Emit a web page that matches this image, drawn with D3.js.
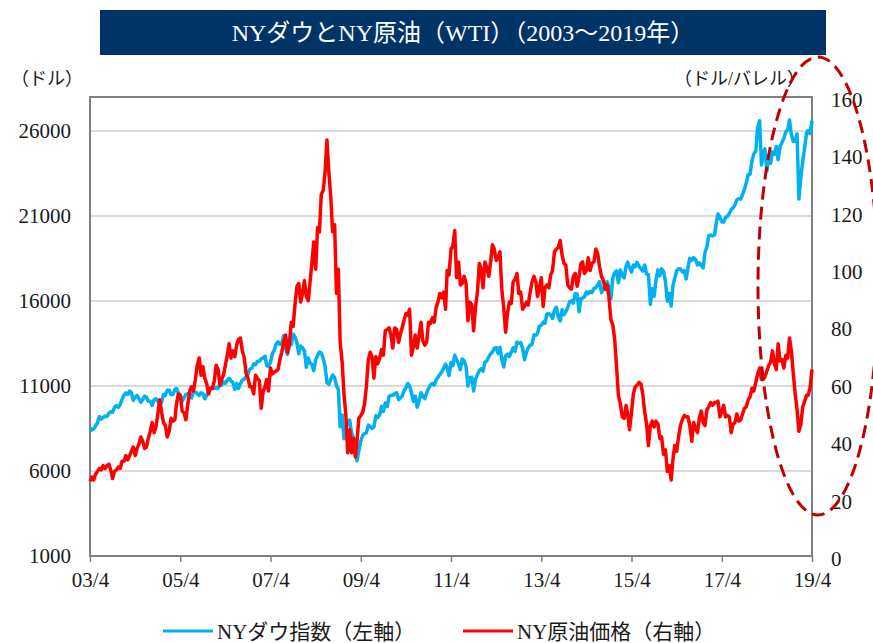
<!DOCTYPE html>
<html>
<head>
<meta charset="utf-8">
<script src="https://cdn.jsdelivr.net/npm/d3@7/dist/d3.min.js"></script>
<style>
  body { margin: 0; background: #fff; }
  svg { display: block; }
</style>
</head>
<body>
<div id="vis"></div>
<script>
// data: two readings a month (1st and 16th), from 2003/4 to 2019/4
var startDate = new Date(2003, 3, 1);

// NY Dow (dollars)
var dowValues = [
  8530, 8400, 8480, 8650, 8850, 9200, 9050, 9150, 9230, 9200, 9400, 9500, 9450, 9750, 9850, 9750, 9900, 10200,
  10450, 10600, 10500, 10700, 10600, 10150, 10350, 10450, 10250, 10050, 10200, 10400, 10350, 10100, 10100, 9850, 10200, 10250, 10100, 9900, 10050, 10500, 10450, 10750,
  10750, 10500, 10500, 10800, 10850, 10600, 10450, 10100, 10300, 10500, 10550, 10550, 10300, 10650, 10650, 10550, 10450, 10600, 10550, 10250, 10450, 10750, 10850, 10850,
  10850, 10900, 10850, 11100, 11050, 11250, 11150, 11350, 11450, 11300, 11200, 10800, 11150, 10850, 11150, 11350, 11400, 11550, 11700, 12000, 12050, 12300, 12250, 12450,
  12450, 12600, 12650, 12750, 12200, 12150, 12400, 12900, 13100, 13450, 13600, 13450, 13500, 13950, 13200, 12850, 13350, 13450, 14050, 13900, 13550, 12900, 13350, 13250,
  13050, 12100, 12650, 12350, 12250, 11900, 12550, 12800, 13000, 12950, 12600, 12150, 11200, 11100, 11400, 11650, 11500, 11000, 10800, 8600, 9300, 7900, 8400, 8900,
  9000, 8250, 7950, 7550, 6600, 7200, 7750, 8100, 8200, 8250, 8700, 8600, 8500, 8600, 9250, 9150, 9300, 9800, 9500, 10000, 9800, 10400, 10450, 10450,
  10550, 10600, 10200, 10300, 10400, 10700, 10900, 11150, 11000, 10600, 10100, 10400, 9750, 10100, 10600, 10400, 10250, 10600, 10850, 11050, 11150, 11050, 11350, 11500,
  11670, 11840, 12040, 12290, 12060, 11610, 12380, 12200, 12810, 12550, 12290, 11960, 12580, 12480, 12130, 11000, 11490, 11510, 10700, 11400, 11660, 11900, 12020, 11870,
  12400, 12480, 12720, 12900, 12980, 13230, 13260, 12920, 13280, 12600, 12120, 12770, 12870, 12730, 12980, 13250, 13040, 13590, 13520, 13550, 13230, 12540, 12970, 13240,
  13410, 13440, 14010, 13980, 14090, 14510, 14570, 14760, 14700, 15230, 15250, 15180, 14970, 15450, 15630, 15080, 14830, 15490, 15190, 15370, 15620, 15960, 16010, 15880,
  16440, 16420, 15370, 16150, 16170, 16250, 16530, 16430, 16560, 16490, 16740, 16780, 16960, 17140, 16490, 16660, 17070, 17130, 16800, 16120, 17370, 17650, 17780, 17070,
  17830, 17510, 17360, 18050, 18290, 17980, 17700, 18110, 18020, 18270, 18040, 17900, 17760, 18120, 17600, 17550, 15800, 16740, 16270, 17220, 17830, 17480, 17890, 17750,
  17150, 15990, 16450, 15700, 16870, 17330, 17790, 17900, 17890, 17710, 17790, 17300, 17950, 18520, 18400, 18550, 18420, 18120, 18250, 18090, 17950, 18870, 19190, 19840,
  19880, 19830, 19890, 20620, 21120, 20930, 20650, 20640, 20910, 20980, 21140, 21380, 21480, 21630, 21960, 22020, 21990, 22270, 22560, 22960, 23440, 23460, 24230, 24650,
  24820, 26200, 26600, 24000, 24610, 24950, 23640, 24570, 24100, 24770, 24640, 25090, 24310, 25060, 25330, 25560, 25950, 26060, 26650, 25800, 25380, 25410, 25830, 22000,
  23350, 24210, 25060, 25880, 26030, 25850, 26600
];

// NY crude oil WTI (dollars / barrel)
var wtiValues = [
  26, 27.5, 26.5, 28.5, 29.5, 30.5, 30, 31.5, 30.5, 31.5, 32, 30, 27, 29.5, 30, 31, 30.5, 33,
  33, 35, 33.5, 35, 36.5, 38, 35, 37.5, 39, 41.5, 40, 37.5, 38, 41, 43.5, 46.5, 43, 45, 49.5, 54.5, 50, 46.5, 45.5, 41.5,
  43.5, 48, 47, 47.5, 53, 56.5, 56, 50.5, 50, 47.5, 53, 57.5, 59, 57.5, 61.5, 66.5, 69, 63, 66, 62, 60, 56.5, 58.5, 58.5,
  61, 66.5, 65, 59.5, 61.5, 63, 66.5, 70, 74, 69, 71.5, 69.5, 73.5, 75.5, 76, 71.5, 69, 63.5, 62, 59, 59, 56.5, 63, 62,
  61, 51.5, 57.5, 59, 61.5, 57.5, 65.5, 63.5, 64, 64.5, 65, 68.5, 71, 74.5, 77, 71, 74, 81.5, 80, 87.5, 94, 95, 88.5, 91.5,
  96, 90.5, 89, 96, 102, 109.5, 100, 114.5, 113, 126, 127.5, 134, 145, 134, 125, 113, 115.5, 91.5, 100, 74.5, 67.5, 56.5, 49, 36,
  44, 36, 41, 34.5, 40, 48, 49, 50, 53, 59, 68.5, 71, 69.5, 62, 69.5, 67, 69, 72, 70, 78.5, 79, 79.5, 77, 72.5,
  79.5, 79, 74.5, 77.5, 79.5, 82, 84.5, 84, 86, 70, 73, 77, 72.5, 76.5, 81.5, 75, 73.5, 74.5, 81.5, 81, 83, 81.5, 86.5, 88.5,
  91.5, 90, 92, 86, 99.5, 98, 107, 108, 113.5, 97, 102.5, 94.5, 95, 97.5, 95, 82, 88.5, 87.5, 78.5, 86.5, 92, 102, 100, 93.5,
  102.5, 100.5, 97.5, 102.5, 108.5, 107, 103, 104, 106, 93, 86.5, 78, 84.5, 88.5, 88, 95.5, 96.5, 98.5, 91.5, 92, 86, 87, 88.5, 87.5,
  92, 95.5, 97.5, 95.5, 90.5, 93.5, 97, 87, 93.5, 94.5, 93.5, 98, 99.5, 106, 107, 107.5, 110, 105, 102, 101.5, 94.5, 93.5, 93, 97.5,
  98.5, 94, 97.5, 102, 102.5, 98.5, 99.5, 104, 99.5, 102, 102.5, 107, 105.5, 101, 97.5, 96, 93, 94.5, 90, 82.5, 80.5, 75.5, 66, 56,
  53, 48.5, 48, 52.5, 49.5, 44, 50, 56.5, 59, 59.5, 60.5, 60, 56.5, 50.5, 46, 38.5, 45.5, 47, 45, 47, 46, 41, 41.5, 35.5,
  37, 29.5, 31.5, 26.5, 33.5, 38.5, 36.5, 41.5, 45.5, 47.5, 49, 48.5, 48.5, 45.5, 40, 46.5, 44.5, 43, 48, 50.5, 46.5, 45.5, 51, 52,
  53.5, 52.5, 53.5, 53.5, 54, 48.5, 50.5, 52.5, 48.5, 49, 48.5, 43, 46, 46.5, 49.5, 47, 47.5, 49.5, 51.5, 52, 54.5, 55.5, 58.5, 57.5,
  60.5, 63.5, 65.5, 61.5, 61.5, 62.5, 64.5, 66.5, 67.5, 71.5, 67, 65, 74, 68, 68.5, 65.5, 70, 69, 76, 71.5, 63.5, 56.5, 51, 43.5,
  46, 52, 54, 56, 56, 58.5, 65
];

var xTickYears = [2003, 2005, 2007, 2009, 2011, 2013, 2015, 2017, 2019];
var leftTicks = [1000, 6000, 11000, 16000, 21000, 26000];
var rightTicks = [0, 20, 40, 60, 80, 100, 120, 140, 160];

var titleText = "NYダウとNY原油（WTI）（2003～2019年）";
var leftUnit = "（ドル）";
var rightUnit = "（ドル/バレル）";
var dowName = "NYダウ指数（左軸）";
var wtiName = "NY原油価格（右軸）";

var font = '"Liberation Serif", "Noto Sans CJK JP", serif';
var dowColor = "#00b0f0";
var wtiColor = "#ff0000";

var width = 873, height = 643;
var margin = { top: 97, left: 90, right: 61, bottom: 87 };
var plotW = width - margin.left - margin.right;
var plotH = height - margin.top - margin.bottom;

function dateAt(i) {
    var d = d3.timeMonth.offset(startDate, Math.floor(i / 2));
    if (i % 2 === 1) d.setDate(16);
    return d;
}

var dowData = dowValues.map(function(v, i) { return { date: dateAt(i), value: v }; });
var wtiData = wtiValues.map(function(v, i) { return { date: dateAt(i), value: v }; });

var svg = d3.select("#vis")
    .append("svg")
    .attr("width", width)
    .attr("height", height);

// title band
svg.append("rect")
    .attr("x", 100).attr("y", 10)
    .attr("width", 726).attr("height", 45)
    .attr("fill", "#003366");

svg.append("text")
    .attr("x", 463).attr("y", 41)
    .attr("text-anchor", "middle")
    .style("font-family", font)
    .style("font-size", "24px")
    .style("fill", "#fff")
    .text(titleText);

var g = svg.append("g")
    .attr("transform", "translate(" + margin.left + "," + margin.top + ")");

var xscale = d3.scaleTime()
    .domain([new Date(2003, 3, 1), new Date(2019, 3, 1)])
    .range([0, plotW]);

var yLeft = d3.scaleLinear().domain([1000, 28000]).range([plotH, 0]);
var yRight = d3.scaleLinear().domain([0, 160]).range([plotH, 0]);

// gridlines
g.selectAll(".grid")
    .data(leftTicks.slice(1))
    .enter()
    .append("line")
    .attr("class", "grid")
    .attr("x1", 0).attr("x2", plotW)
    .attr("y1", function(d) { return yLeft(d); })
    .attr("y2", function(d) { return yLeft(d); })
    .attr("stroke", "#d9d9d9")
    .attr("stroke-width", 2);

// x axis
var xaxis = d3.axisBottom(xscale)
    .tickValues(xTickYears.map(function(y) { return new Date(y, 3, 1); }))
    .tickFormat(d3.timeFormat("%y/%-m"))
    .tickSize(6)
    .tickPadding(10);

var gx = g.append("g")
    .attr("transform", "translate(0," + plotH + ")")
    .call(xaxis);
gx.select(".domain").remove();
gx.selectAll("line").attr("stroke", "#808080").attr("stroke-width", 1.5);
gx.selectAll("text")
    .style("font-family", font)
    .style("font-size", "21px")
    .style("fill", "#1a1a1a");

// left axis
var gl = g.append("g")
    .call(d3.axisLeft(yLeft).tickValues(leftTicks).tickFormat(d3.format("d")).tickSize(0).tickPadding(19));
gl.select(".domain").remove();
gl.selectAll("text")
    .style("font-family", font)
    .style("font-size", "21px")
    .style("fill", "#1a1a1a");

// right axis
var gr = g.append("g")
    .attr("transform", "translate(" + plotW + ",0)")
    .call(d3.axisRight(yRight).tickValues(rightTicks).tickSize(0).tickPadding(19));
gr.select(".domain").remove();
gr.selectAll("text")
    .attr("dy", "0.45em")
    .style("font-family", font)
    .style("font-size", "21px")
    .style("fill", "#1a1a1a");

// frame
g.append("rect")
    .attr("x", 0).attr("y", 0)
    .attr("width", plotW).attr("height", plotH)
    .attr("fill", "none")
    .attr("stroke", "#808080")
    .attr("stroke-width", 2);

// lines
var dowLine = d3.line()
    .x(function(d) { return xscale(d.date); })
    .y(function(d) { return yLeft(d.value); });

var wtiLine = d3.line()
    .x(function(d) { return xscale(d.date); })
    .y(function(d) { return yRight(d.value); });

g.append("path")
    .datum(dowData)
    .attr("d", dowLine)
    .attr("fill", "none")
    .attr("stroke", dowColor)
    .attr("stroke-width", 3.5)
    .attr("stroke-linejoin", "round");

g.append("path")
    .datum(wtiData)
    .attr("d", wtiLine)
    .attr("fill", "none")
    .attr("stroke", wtiColor)
    .attr("stroke-width", 3.5)
    .attr("stroke-linejoin", "round");

// unit labels
svg.append("text")
    .attr("x", 11).attr("y", 85)
    .style("font-family", font)
    .style("font-size", "18px")
    .style("fill", "#1a1a1a")
    .text(leftUnit);

svg.append("text")
    .attr("x", 805).attr("y", 85)
    .attr("text-anchor", "end")
    .style("font-family", font)
    .style("font-size", "18px")
    .style("fill", "#1a1a1a")
    .text(rightUnit);

// highlight ellipse
svg.append("ellipse")
    .attr("cx", 818).attr("cy", 286)
    .attr("rx", 60).attr("ry", 229)
    .attr("fill", "none")
    .attr("stroke", "#c00000")
    .attr("stroke-width", 3)
    .attr("stroke-dasharray", "13,7");

// legend
var legend = [
    { name: dowName, color: dowColor, x: 163 },
    { name: wtiName, color: wtiColor, x: 463 }
];

var lg = svg.selectAll(".legend")
    .data(legend)
    .enter()
    .append("g")
    .attr("class", "legend")
    .attr("transform", function(d) { return "translate(" + d.x + ",631)"; });

lg.append("line")
    .attr("x1", 0).attr("x2", 50)
    .attr("stroke", function(d) { return d.color; })
    .attr("stroke-width", 3);

lg.append("text")
    .attr("x", 54).attr("y", 8)
    .style("font-family", font)
    .style("font-size", "21px")
    .style("fill", "#1a1a1a")
    .text(function(d) { return d.name; });
</script>
</body>
</html>
